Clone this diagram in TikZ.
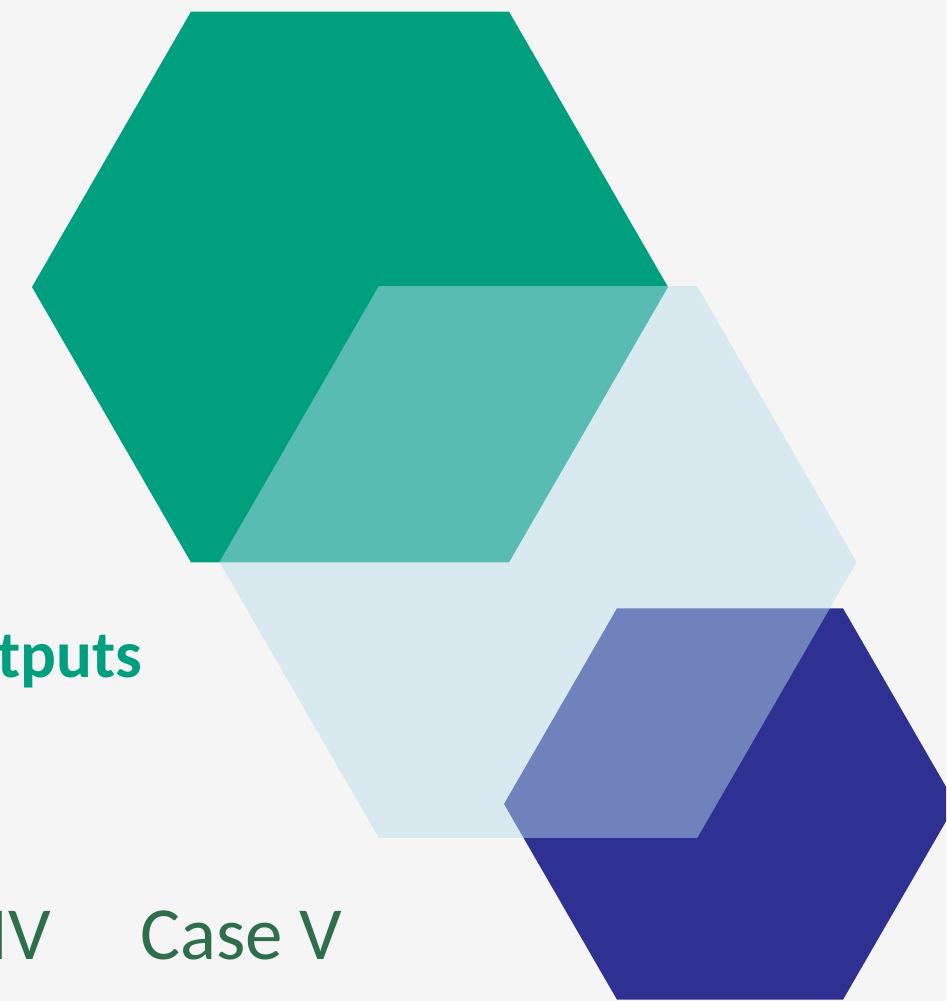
\documentclass[tikz,border=0pt]{standalone}
\usepackage{fontspec}
\setmainfont{Carlito}
\usetikzlibrary{shapes.geometric}

\begin{document}
\begin{tikzpicture}[x=1pt, y=-1pt, hex/.style={regular polygon, regular polygon sides=6, inner sep=0pt, outer sep=0pt}]
        % Define colors
        \definecolor{bggray}{RGB}{245,245,245}
        \definecolor{hexgreen}{RGB}{0,160,127}
        \definecolor{hexblue}{RGB}{46,49,146}
        \definecolor{hexpale}{RGB}{185,220,235}
        \definecolor{casegreen}{RGB}{46,110,74}

        % Canvas
        \fill[bggray] (0,0) rectangle (946,1001);
        \useasboundingbox (0,0) rectangle (946,1001);
        \clip (0,0) rectangle (946,1001);

        % Hexagons
        \node[hex, fill=hexgreen, minimum size=636pt] (greenhex) at (350,287) {};
        \node[hex, fill=hexblue, minimum size=452pt] (bluehex) at (730,804) {};
        \node[hex, fill=hexpale, fill opacity=0.48, minimum size=637pt] (palehex) at (538,562) {};

        % Labels
        \node[anchor=base west, inner sep=0pt, text=hexgreen, font=\fontsize{67}{80}\selectfont\bfseries] (outlabel) at (-3,677) {tputs};
        \node[anchor=base west, inner sep=0pt, text=casegreen, font=\fontsize{75}{90}\selectfont] (casefive) at (140,959) {Case V};
        \node[anchor=base east, inner sep=0pt, text=casegreen, font=\fontsize{75}{90}\selectfont] (casefour) at (51,959) {IV};
    \end{tikzpicture}
\end{document}
